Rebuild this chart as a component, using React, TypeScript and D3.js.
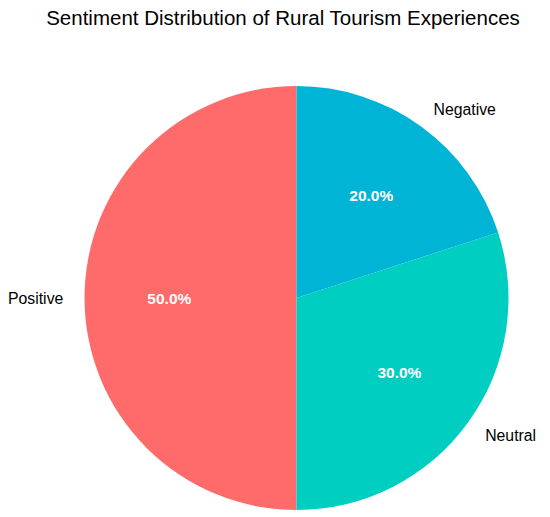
import { useMemo } from "react";
import { pie, arc } from "d3";

const labels = ["Positive", "Neutral", "Negative"];
const values = [50, 30, 20];
const colors = ["#FF6B6B", "#00CEC1", "#00B4D6"];
const title = "Sentiment Distribution of Rural Tourism Experiences";

const width = 550;
const height = 517;
const cx = 296.5;
const cy = 298;
const radius = 212;
const font = "Liberation Sans, Arial, Helvetica, sans-serif";

export default function App() {
  const slices = useMemo(() => {
    // startangle 90, counterclockwise like matplotlib
    const gen = pie<number>()
      .sort(null)
      .startAngle(0)
      .endAngle(-2 * Math.PI)
      .value((d) => d);
    return gen(values);
  }, []);

  const arcFn = arc<any>().innerRadius(0).outerRadius(radius);
  const total = values.reduce((a, b) => a + b, 0);

  return (
    <div style={{ position: "absolute", left: 0, top: 0 }}>
      <svg width={width} height={height} style={{ display: "block", background: "#fff" }}>
        <text x={283} y={25} textAnchor="middle" fontFamily={font} fontSize={20.5} fill="#000">
          {title}
        </text>
        <g transform={`translate(${cx},${cy})`}>
          {slices.map((s, i) => (
            <path key={labels[i]} d={arcFn(s) ?? ""} fill={colors[i]} />
          ))}
          {slices.map((s, i) => {
            const mid = (s.startAngle + s.endAngle) / 2;
            const sx = Math.sin(mid);
            const sy = -Math.cos(mid);
            const lx = sx * radius * 1.1;
            const ly = sy * radius * 1.1;
            const px = sx * radius * 0.6;
            const py = sy * radius * 0.6;
            return (
              <g key={`t-${labels[i]}`}>
                <text
                  x={lx}
                  y={ly}
                  textAnchor={sx > 0.001 ? "start" : sx < -0.001 ? "end" : "middle"}
                  dominantBaseline="central"
                  fontFamily={font}
                  fontSize={15.8}
                  fill="#000"
                >
                  {labels[i]}
                </text>
                <text
                  x={px}
                  y={py}
                  textAnchor="middle"
                  dominantBaseline="central"
                  fontFamily={font}
                  fontWeight="bold"
                  fontSize={15.5}
                  fill="#fff"
                >
                  {((values[i] / total) * 100).toFixed(1)}%
                </text>
              </g>
            );
          })}
        </g>
      </svg>
    </div>
  );
}
